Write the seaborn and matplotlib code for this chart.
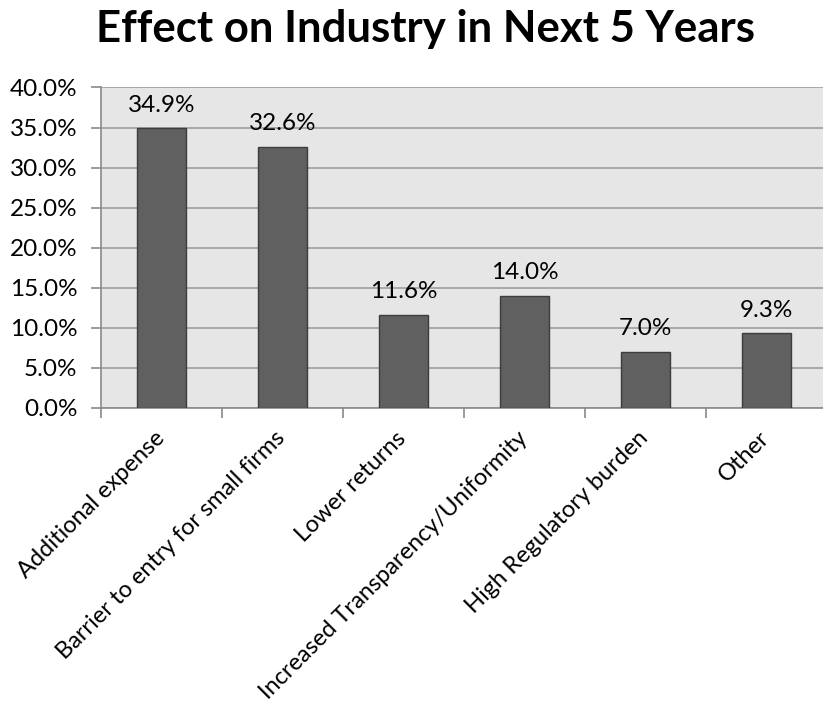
import matplotlib
matplotlib.use("Agg")
import matplotlib.pyplot as plt
import seaborn as sns
import numpy as np
import pandas as pd
from matplotlib.ticker import FuncFormatter, FixedLocator
from matplotlib.transforms import ScaledTranslation

categories = [
    "Additional expense",
    "Barrier to entry for small firms",
    "Lower returns",
    "Increased Transparency/Uniformity",
    "High Regulatory burden",
    "Other",
]
shares = [34.9, 32.6, 11.6, 14.0, 7.0, 9.3]
y_ticks = [0, 5, 10, 15, 20, 25, 30, 35, 40]
title = "Effect on Industry in Next 5 Years"

sns.set_theme(style="white")
plt.rcParams["font.family"] = ["Lato", "DejaVu Sans"]

df = pd.DataFrame({"category": categories, "share": shares})

fig = plt.figure(figsize=(8.23, 7.15), dpi=100)
ax = fig.add_axes([101 / 823, 307.3 / 715, 726 / 823, 320.2 / 715])
ax.set_facecolor("#e6e6e6")

sns.barplot(data=df, x="category", y="share", color="#606060",
            saturation=1, width=0.4, edgecolor="#3c3c3c", linewidth=1.0,
            ax=ax, zorder=3)

ax.set_ylim(0, 40)
ax.set_xlim(-0.5, len(categories) - 0.5)
ax.yaxis.set_major_locator(FixedLocator(y_ticks))
ax.yaxis.set_major_formatter(FuncFormatter(lambda v, _: f"{v:.1f}%"))
ax.grid(axis="y", color="#a8a8a8", linewidth=1.4, zorder=0)
ax.set_axisbelow(True)

for side in ("top", "right"):
    ax.spines[side].set_visible(False)
for side in ("left", "bottom"):
    ax.spines[side].set_color("#8a8a8a")
    ax.spines[side].set_linewidth(1.2)

label_size = 17.5
ax.tick_params(axis="y", which="major", left=True, length=7, width=1.2,
               color="#8a8a8a", labelsize=label_size, labelcolor="black", pad=10)
ax.tick_params(axis="x", which="major", bottom=False, labelsize=17,
               labelcolor="black", pad=4)
ax.set_xticks(np.arange(-0.5, len(categories)), minor=True)
ax.tick_params(axis="x", which="minor", bottom=True, length=7, width=1.2,
               color="#8a8a8a")

ax.set_xticks(range(len(categories)))
ax.set_xticklabels(categories, rotation=45, ha="right",
                   rotation_mode="anchor")
shift = ScaledTranslation(-0.08, -0.06, fig.dpi_scale_trans)
for lbl in ax.get_xticklabels():
    lbl.set_transform(lbl.get_transform() + shift)
ax.set_xlabel("")
ax.set_ylabel("")

for i, v in enumerate(shares):
    ax.annotate(f"{v:.1f}%", (i, v), xytext=(0, 9), textcoords="offset points",
                ha="center", va="bottom", fontsize=label_size, color="black")

fig.text(425 / 823, 1 - 42 / 715, title, ha="center", va="baseline",
         fontsize=31.5, fontweight="bold", color="black")

fig.savefig("out.png", dpi=100)
